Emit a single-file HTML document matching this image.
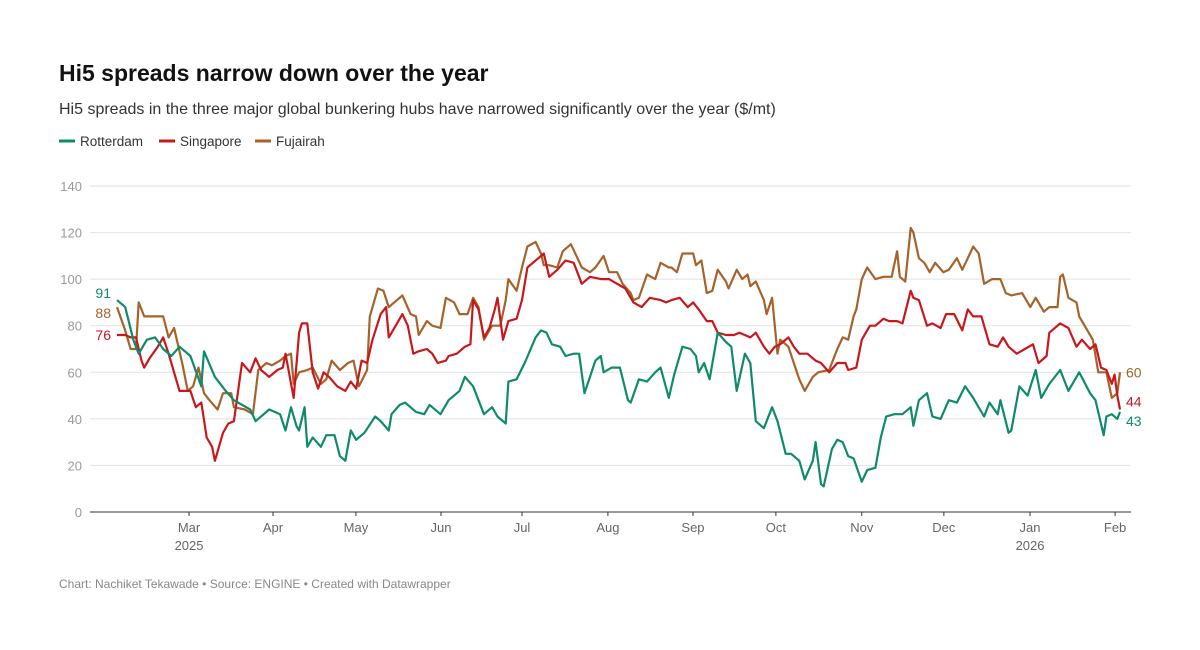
<!DOCTYPE html>
<html><head><meta charset="utf-8">
<style>
body{margin:0;background:#fff;font-family:"Liberation Sans",sans-serif;}
#wrap{position:relative;width:1200px;height:650px;overflow:hidden;}
</style></head>
<body>
<div id="wrap">
<svg id="chart" width="1200" height="650" xmlns="http://www.w3.org/2000/svg" font-family="Liberation Sans, sans-serif">
<text x="59" y="81" font-size="23" font-weight="bold" fill="#111">Hi5 spreads narrow down over the year</text>
<text x="59" y="114" font-size="16" fill="#333">Hi5 spreads in the three major global bunkering hubs have narrowed significantly over the year ($/mt)</text>
<g>
<g><line x1="59" y1="141" x2="75" y2="141" stroke="#0f8b6c" stroke-width="3"/><text x="80" y="146" font-size="13.5" fill="#333">Rotterdam</text></g>
<g><line x1="159" y1="141" x2="175" y2="141" stroke="#c8181d" stroke-width="3"/><text x="180" y="146" font-size="13.5" fill="#333">Singapore</text></g>
<g><line x1="255" y1="141" x2="271" y2="141" stroke="#a5632b" stroke-width="3"/><text x="276" y="146" font-size="13.5" fill="#333">Fujairah</text></g>
</g>
<g id="grid"></g>
<g id="xaxis"></g>
<g id="series"></g>
<g id="labels"></g>
<text x="59" y="588" font-size="12" fill="#888">Chart: Nachiket Tekawade • Source: ENGINE • Created with Datawrapper</text>
</svg>
</div>
<script>
const yTicks=[0,20,40,60,80,100,120,140];
const tickLabels=["Mar","Apr","May","Jun","Jul","Aug","Sep","Oct","Nov","Dec","Jan","Feb"];
const tickDays=[26.5,57.4,87.9,119.2,149,180.6,211.9,242.4,274,304.2,335.9,367.2];
const yearLabels=["2025","","","","","","","","","","2026",""];
const rotDays=[0,3,6,8,11,14,17,20,23,27,31,32,36,40,43,49,51,56,60,62,64,66,67,69,70,72,75,77,80,82,84,86,88,91,95,97,100,101,104,106,110,113,115,119,122,126,128,131,133,135,138,140,143,144,147,150,154,156,158,160,163,165,168,170,172,176,178,179,182,185,188,189,192,195,198,200,203,205,208,211,213,214,216,218,221,224,226,228,231,233,235,238,241,243,246,248,251,253,256,257,259,260,263,265,267,269,271,274,276,279,281,283,286,289,292,293,295,298,300,303,306,309,312,315,319,321,324,325,328,329,332,335,338,340,343,347,350,354,358,360,363,364,366,368,369];
const rotVals=[91,88,74,68,74,75,70,67,71,67,54,69,58,52,48,44,39,44,42,35,45,37,35,45,28,32,28,33,33,24,22,35,31,34,41,39,35,42,46,47,43,42,46,42,48,52,58,54,48,42,45,41,38,56,57,64,75,78,77,72,71,67,68,68,51,65,67,60,62,62,48,47,57,56,60,62,49,59,71,70,67,60,64,57,77,73,71,52,68,64,39,36,45,39,25,25,22,14,22,30,12,11,27,31,30,24,23,13,18,19,32,41,42,42,45,37,48,51,41,40,48,47,54,49,41,47,42,48,34,35,54,50,61,49,55,61,52,60,51,48,33,41,42,40,43];
const sinDays=[0,3,5,7,9,10,12,15,17,19,23,27,29,31,33,35,36,39,41,43,46,49,51,53,56,59,61,62,65,67,68,70,72,74,76,78,81,84,86,88,90,92,94,97,99,100,103,105,107,109,111,114,116,118,121,122,125,128,130,131,133,135,137,139,140,142,144,147,149,151,153,156,157,159,162,165,168,171,174,178,181,184,187,190,193,196,200,202,204,207,210,212,214,217,219,221,224,227,229,233,235,238,240,242,244,247,249,251,254,257,259,262,265,268,269,272,274,277,279,282,284,287,289,292,293,295,298,300,303,305,308,311,313,315,318,321,324,326,328,331,334,337,339,342,343,347,350,353,355,358,360,362,364,366,367,368,369];
const sinVals=[76,76,75,75,65,62,66,71,75,68,52,52,45,47,32,28,22,34,38,39,64,60,66,61,58,61,62,68,49,77,81,81,60,53,60,58,54,52,56,53,65,64,74,85,88,75,81,85,80,68,69,70,68,64,65,67,68,71,72,91,87,75,79,87,92,74,82,83,91,105,107,110,111,101,104,108,107,98,101,100,100,98,96,90,88,92,91,90,91,92,88,90,87,82,82,77,76,76,77,75,77,71,68,71,72,75,71,68,68,65,64,60,64,64,61,62,74,80,80,83,82,82,81,95,92,91,80,81,79,85,85,78,87,84,84,72,71,75,71,68,70,72,64,67,77,81,79,71,74,70,72,62,61,55,59,50,44];
const fujDays=[0,3,5,7,8,10,14,17,19,21,24,26,28,30,32,34,37,39,42,43,47,50,52,55,57,60,62,64,65,67,70,72,75,77,79,82,85,87,89,92,93,96,98,100,103,105,108,110,111,114,116,119,121,124,126,129,131,133,135,138,141,143,144,147,149,151,154,156,157,159,162,164,167,169,171,174,176,179,181,184,186,189,190,192,195,198,200,203,204,206,208,212,213,215,217,219,221,224,225,228,230,232,233,235,238,239,241,243,244,247,249,251,253,256,258,262,265,267,269,271,272,274,276,279,282,285,287,288,290,292,293,295,297,299,301,304,306,309,311,313,315,317,319,322,325,327,329,333,336,338,341,343,346,347,348,350,353,354,357,359,361,364,366,368,369];
const fujVals=[88,78,70,70,90,84,84,84,75,79,64,52,54,62,51,48,44,51,51,45,44,42,61,64,63,65,67,68,55,60,61,62,55,57,65,61,64,65,54,61,84,96,95,88,91,93,85,84,76,82,80,79,92,90,85,85,92,88,74,80,80,91,100,95,105,114,116,111,106,106,105,112,115,110,105,103,105,110,103,103,98,94,91,92,102,100,107,105,105,103,111,111,106,108,94,95,104,99,96,104,100,102,97,99,91,85,92,68,74,71,64,57,52,58,60,61,70,75,74,84,87,100,105,100,101,101,112,101,99,122,120,109,107,103,107,103,104,109,104,109,114,111,98,100,100,94,93,94,88,92,86,88,88,101,102,92,90,84,78,74,60,60,49,51,60];
const finalVals={rot:43,sin:44,fuj:60};
const startVals={rot:91,sin:76,fuj:88};

const NS="http://www.w3.org/2000/svg";
const X0=117,X1=1120,D0=0,D1=369,Y0=512,Y1=186,V0=0,V1=140;
function xs(d){return X0+(d-D0)/(D1-D0)*(X1-X0);}
function ys(v){return Y0-(v-V0)/(V1-V0)*(Y0-Y1);}
function mk(tag,attrs,parent){const e=document.createElementNS(NS,tag);for(const k in attrs)e.setAttribute(k,attrs[k]);parent.appendChild(e);return e;}

const grid=document.getElementById('grid');
yTicks.forEach(v=>{
  const l=mk('line',{x1:90,x2:1131,y1:ys(v),y2:ys(v),stroke:v===0?'#333':'#e2e2e2','stroke-width':1},grid);
  
  
  const t=mk('text',{x:82,y:ys(v)+5,'text-anchor':'end','font-size':13,fill:'#9a9a9a'},grid);
  t.textContent=v;
  
  
});
const xa=document.getElementById('xaxis');
tickLabels.forEach((lab,i)=>{
  const x=xs(tickDays[i]);
  const tk=mk('line',{x1:x,x2:x,y1:512,y2:516,stroke:'#333','stroke-width':1},xa);
  
  
  const t=mk('text',{x:x,y:532,'text-anchor':'middle','font-size':13,fill:'#666'},xa);
  t.textContent=lab;
  
  
  if(yearLabels[i]){
    const y=mk('text',{x:x,y:550,'text-anchor':'middle','font-size':13,fill:'#666'},xa);
    y.textContent=yearLabels[i];
    
    
  }
});
const sg=document.getElementById('series');
function drawLine(days,vals,color,name){
  const d=days.map((dd,i)=>(i?'L':'M')+xs(dd).toFixed(1)+','+ys(vals[i]).toFixed(1)).join('');
  const p=mk('path',{d:d,fill:'none',stroke:color,'stroke-width':2.2,'stroke-linejoin':'round'},sg);
  
  
}
drawLine(fujDays,fujVals,'#a5632b','fujairah-line');
drawLine(sinDays,sinVals,'#c8181d','singapore-line');
drawLine(rotDays,rotVals,'#0f8b6c','rotterdam-line');

const lg=document.getElementById('labels');
function lbl(x,y,txt,color,anchor,name){
  const t=mk('text',{x:x,y:y,'text-anchor':anchor,'font-size':14,fill:color},lg);
  t.textContent=txt;
  
  
}
lbl(111,ys(startVals.rot)-2,startVals.rot,'#0f8b6c','end','rotterdam-start-label');
lbl(111,ys(startVals.fuj)+11,startVals.fuj,'#a5632b','end','fujairah-start-label');
lbl(111,ys(startVals.sin)+5,startVals.sin,'#c8181d','end','singapore-start-label');
lbl(1126,ys(finalVals.fuj)+5,finalVals.fuj,'#a5632b','start','fujairah-end-label');
lbl(1126,ys(finalVals.sin)-3,finalVals.sin,'#c8181d','start','singapore-end-label');
lbl(1126,ys(finalVals.rot)+14,finalVals.rot,'#0f8b6c','start','rotterdam-end-label');
</script>
</body></html>
